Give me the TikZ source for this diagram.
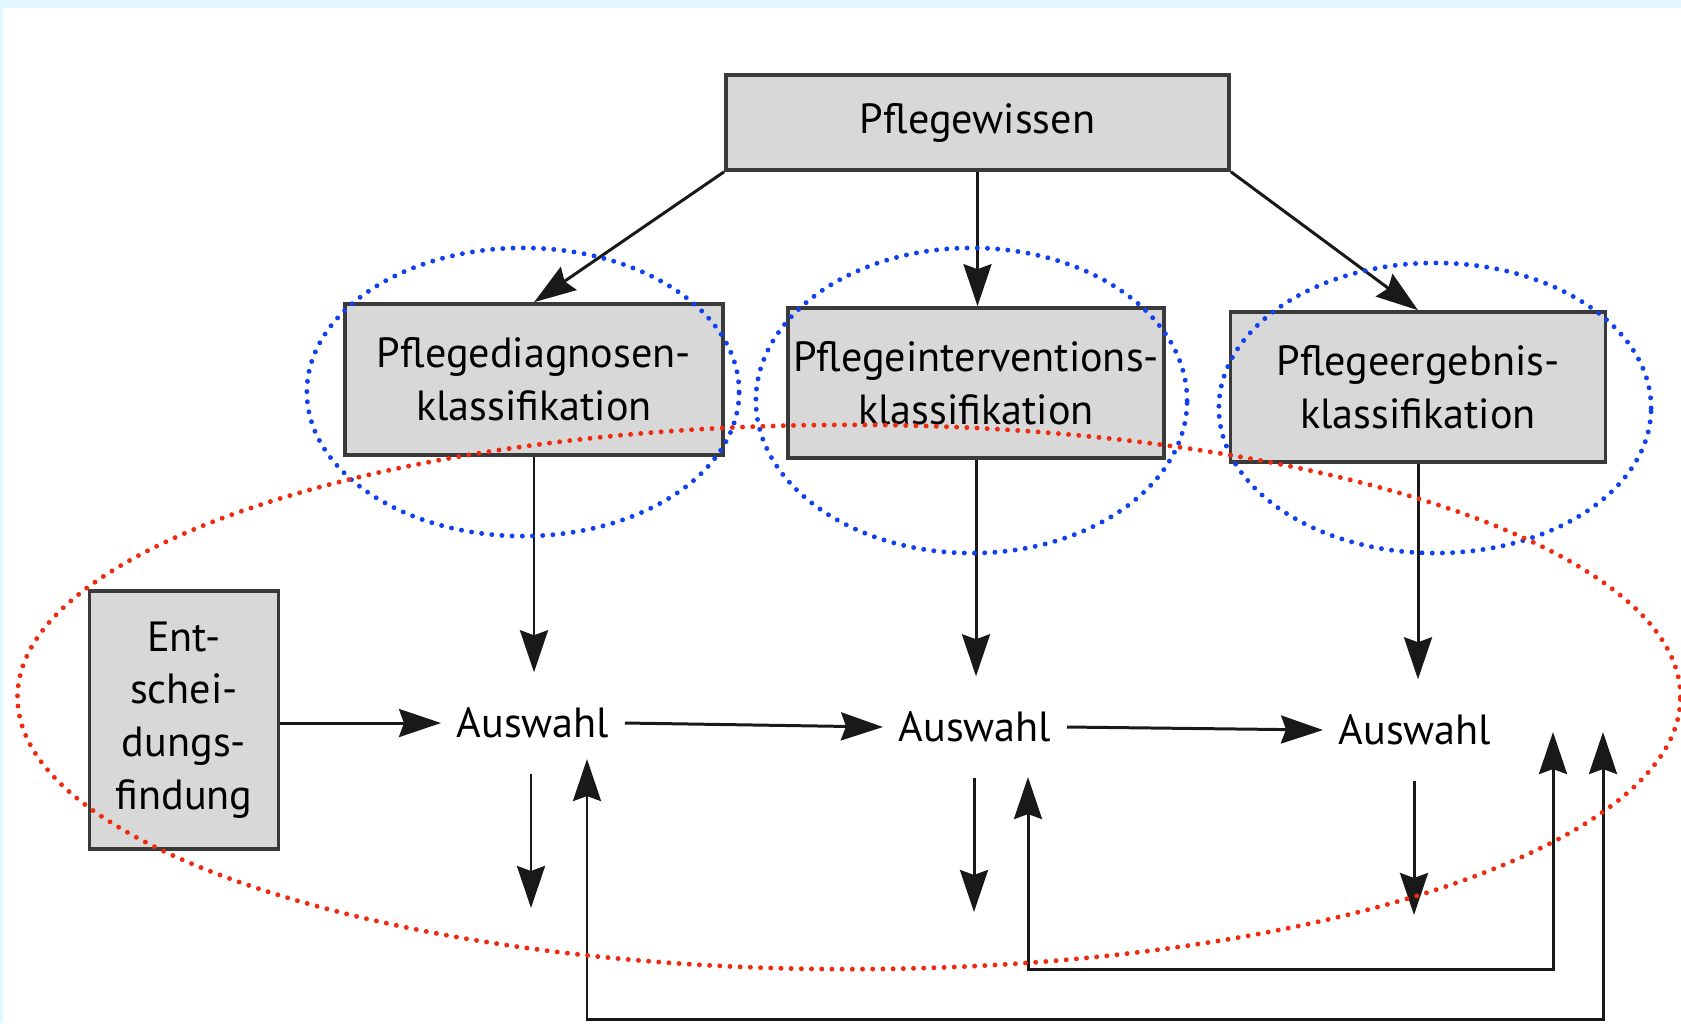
\documentclass[tikz,border=0pt]{standalone}
\usepackage{fontspec}
\setmainfont{PT Sans}
\usetikzlibrary{arrows.meta}

\definecolor{framecyan}{HTML}{E0F8FE}
\definecolor{boxgray}{HTML}{D8D8D8}
\definecolor{boxline}{HTML}{3A3A3A}
\definecolor{ringblue}{HTML}{1040F0}
\definecolor{ringred}{HTML}{F02A10}

\tikzset{
  klass/.style={draw=boxline, fill=boxgray, line width=1pt, align=center,
    font=\fontsize{12}{15}\selectfont, inner sep=0pt},
  choice/.style={font=\fontsize{12}{15}\selectfont, inner xsep=0.15cm,
    inner ysep=0pt, minimum height=1cm},
  link/.style={->, line width=0.85pt, draw=black!90},
  ring/.style={dash pattern=on 0pt off 2.9pt, line cap=round, line width=1.4pt},
}

\begin{document}
\begin{tikzpicture}[x=0.01cm, y=-0.01cm, >={Stealth[length=4.2mm,width=2.8mm,inset=0.5mm]}]
    \fill[framecyan] (0,0) rectangle (1681,1023);
    \fill[white] (3,8) rectangle (1681,1023);
    \useasboundingbox (0,0) rectangle (1681,1023);

    \node[klass, minimum width=5.03cm, minimum height=0.95cm] (wissen) at (977.5,122.5) {Pflegewissen};
    \node[klass, minimum width=3.775cm, minimum height=1.51cm] (diag) at (534,379.5) {Pflegediagnosen-\\klassifikation};
    \node[klass, minimum width=3.76cm, minimum height=1.5cm] (interv) at (976,383) {Pflegeinterventions-\\klassifikation};
    \node[klass, minimum width=3.745cm, minimum height=1.5cm] (ergeb) at (1418,387) {Pflegeergebnis-\\klassifikation};
    \node[klass, minimum width=1.89cm, minimum height=2.58cm] (ent) at (184,720) {Ent-\\schei-\\dungs-\\findung};

    \node[choice] (aw1) at (533,723) {Auswahl};
    \node[choice] (aw2) at (975,727) {Auswahl};
    \node[choice] (aw3) at (1415,730) {Auswahl};

    \draw[link] (wissen.south west) -- (diag.north);
    \draw[link] (wissen.south) -- (wissen.south |- interv.north);
    \draw[link] (wissen.south east) -- (ergeb.north);

    \draw[link] (diag.south) -- (diag.south |- aw1.north);
    \draw[link] (interv.south) -- (interv.south |- aw2.north);
    \draw[link] (ergeb.south) -- (ergeb.south |- aw3.north);

    \draw[link] (ent.east |- aw1) -- (aw1.west);
    \draw[link] (aw1.east) -- (aw2.west);
    \draw[link] (aw2.east) -- (aw3.west);

    \coordinate (out1) at (531,908);
    \coordinate (out2) at (974,912);
    \coordinate (out3) at (1414,915);
    \draw[link] (aw1.south -| out1) -- (out1);
    \draw[link] (aw2.south -| out2) -- (out2);
    \draw[link] (aw3.south -| out3) -- (out3);

    \coordinate (in1) at (587,759);
    \coordinate (in2) at (1028,777);
    \coordinate (ret1) at (1603,732);
    \coordinate (ret2) at (1553,732);
    \draw[link, <->] (in1) -- ++(0,260) -| (ret1);
    \draw[link, <->] (in2) -- ++(0,192) -| (ret2);

    \draw[ring, ringblue] (523,392) ellipse [x radius=2.16cm, y radius=1.44cm];
    \draw[ring, ringblue] (971.5,400.5) ellipse [x radius=2.155cm, y radius=1.525cm];
    \draw[ring, ringblue] (1435,408) ellipse [x radius=2.16cm, y radius=1.45cm];
    \draw[ring, ringred] (849,697) ellipse [x radius=8.31cm, y radius=2.72cm];
\end{tikzpicture}
\end{document}
